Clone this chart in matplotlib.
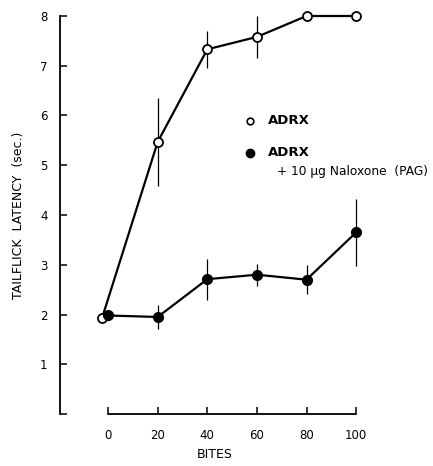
import matplotlib
matplotlib.use("Agg")
import matplotlib.pyplot as plt

# data
bites = [0, 20, 40, 60, 80, 100]
adrx = [1.92, 5.47, 7.33, 7.58, 8.0, 8.0]
adrx_err = [0.0, 0.88, 0.37, 0.43, 0.0, 0.0]
nalox = [1.98, 1.95, 2.71, 2.80, 2.70, 3.65]
nalox_err = [0.0, 0.24, 0.41, 0.22, 0.29, 0.68]

ytick_vals = [0, 1, 2, 3, 4, 5, 6, 7, 8]
ytick_labels = ["", "1", "2", "3", "4", "5", "6", "7", "8"]

plt.rcParams["font.family"] = "DejaVu Sans"

fig = plt.figure(figsize=(4.33, 4.66), dpi=100)
ax = fig.add_axes([60 / 433, 1 - 414 / 466, 310 / 433, 398 / 466])

# open circle at 0 is nudged left so both points show
x_open = list(bites)
x_open[0] = x_open[0] - 2.5

ax.errorbar(x_open, adrx, yerr=adrx_err, color="black", lw=1.6,
            elinewidth=0.9, capsize=0, marker="o", ms=6.5, mfc="white",
            mec="black", mew=1.3, clip_on=False, zorder=3)
ax.errorbar(bites, nalox, yerr=nalox_err, color="black", lw=1.6,
            elinewidth=0.9, capsize=0, marker="o", ms=7, mfc="black",
            mec="black", clip_on=False, zorder=4)

ax.set_xlim(-19.4, 105.6)
ax.set_ylim(0, 8)
ax.spines["top"].set_visible(False)
ax.spines["right"].set_visible(False)
ax.spines["left"].set_bounds(0, 8)
ax.spines["bottom"].set_bounds(0, 100)
ax.spines["left"].set_linewidth(1.3)
ax.spines["bottom"].set_linewidth(1.3)

ax.set_xticks(bites)
ax.set_yticks(ytick_vals)
ax.set_yticklabels(ytick_labels)
ax.tick_params(axis="both", direction="in", length=5, width=1.1,
               labelsize=8.5)
ax.tick_params(axis="x", pad=11)
ax.tick_params(axis="y", pad=9)

ax.set_xlabel("BITES", fontsize=9, labelpad=4)
ax.set_ylabel("TAILFLICK  LATENCY  (sec.)", fontsize=9, labelpad=11)

# legend drawn as text and markers
ax.plot([57.3], [5.89], "o", ms=4.8, mfc="white", mec="black", mew=1.2)
ax.text(64.5, 5.89, "ADRX", fontsize=9.5, fontweight="bold", va="center")
ax.plot([57.3], [5.25], "o", ms=6, color="black")
ax.text(64.5, 5.25, "ADRX", fontsize=9.5, fontweight="bold", va="center")
ax.text(68.1, 4.87, "+ 10 µg Naloxone  (PAG)", fontsize=8.8, va="center")

fig.savefig("out.png", dpi=100)
